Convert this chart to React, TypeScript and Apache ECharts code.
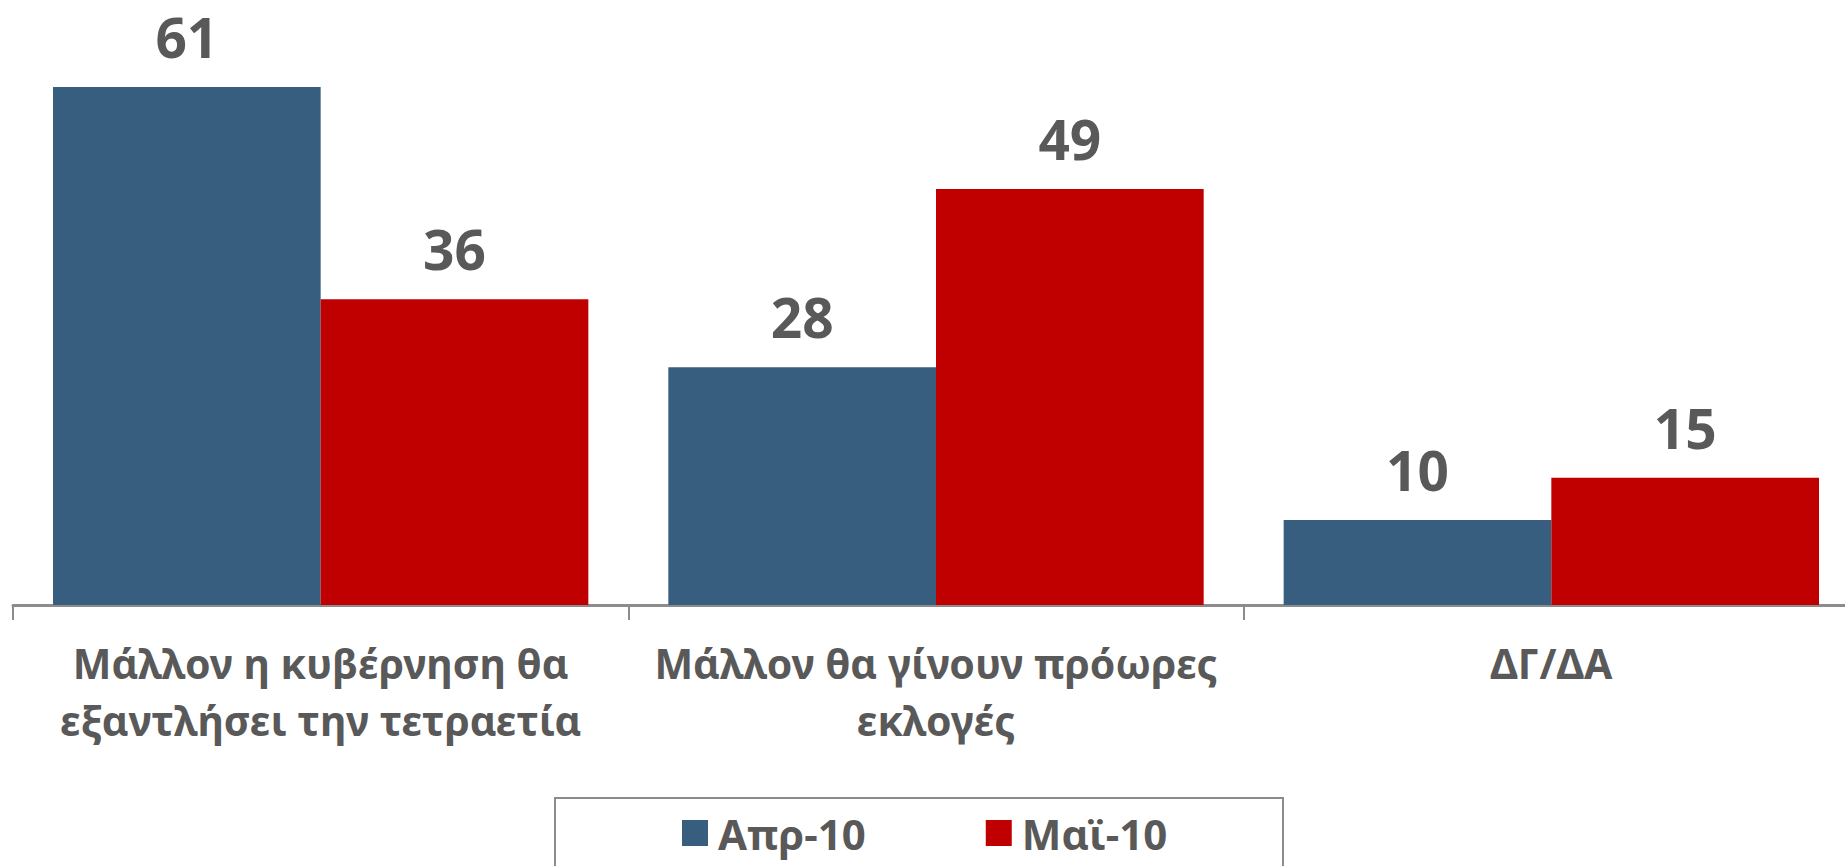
import React, { useEffect, useRef } from "react";
import * as echarts from "echarts";

const categories = [
  "Μάλλον η κυβέρνηση θα\nεξαντλήσει την τετραετία",
  "Μάλλον θα γίνουν πρόωρες\nεκλογές",
  "ΔΓ/ΔΑ",
];
const seriesNames = ["Απρ-10", "Μαϊ-10"];
const aprValues = [61, 28, 10];
const mayValues = [36, 49, 15];
const colors = ["#375E7F", "#C00000"];

const FONT = "'Noto Sans', 'DejaVu Sans', sans-serif";
const GRAY = "#595959";

export default function App() {
  const ref = useRef<HTMLDivElement>(null);
  useEffect(() => {
    if (!ref.current) return;
    const chart = echarts.init(ref.current, undefined, { renderer: "svg" });
    const label = {
      show: true,
      position: "top",
      distance: 23,
      color: GRAY,
      fontFamily: FONT,
      fontWeight: "bold",
      fontSize: 55,
    };
    chart.setOption({
      animation: false,
      backgroundColor: "#ffffff",
      grid: { left: 13, right: 0, top: 10.6, bottom: 261, containLabel: false },
      legend: {
        left: 682,
        top: 808,
        padding: 0,
        itemGap: 120,
        itemWidth: 26,
        itemHeight: 26,
        icon: "rect",
        data: seriesNames,
        textStyle: {
          color: GRAY,
          fontFamily: FONT,
          fontWeight: "bold",
          fontSize: 42,
          lineHeight: 50,
          padding: [0, 0, 0, 5],
        },
      },
      graphic: [
        {
          type: "rect",
          shape: { x: 555, y: 798, width: 728, height: 120 },
          style: { fill: "none", stroke: "#8c8c8c", lineWidth: 2 },
          silent: true,
        },
      ],
      xAxis: {
        type: "category",
        data: categories,
        axisLine: { show: true, lineStyle: { color: "#8c8c8c", width: 3 } },
        axisTick: { show: true, length: 15, lineStyle: { color: "#8c8c8c", width: 2 } },
        axisLabel: {
          color: GRAY,
          fontFamily: FONT,
          fontWeight: "bold",
          fontSize: 41,
          lineHeight: 57,
          margin: 29,
          interval: 0,
        },
      },
      yAxis: {
        type: "value",
        min: 0,
        max: 70,
        show: false,
        splitLine: { show: false },
      },
      series: [
        {
          name: seriesNames[0],
          type: "bar",
          data: aprValues,
          itemStyle: { color: colors[0] },
          barGap: "0%",
          barCategoryGap: "13%",
          label,
        },
        {
          name: seriesNames[1],
          type: "bar",
          data: mayValues,
          itemStyle: { color: colors[1] },
          barGap: "0%",
          barCategoryGap: "13%",
          label,
        },
      ],
    });
    return () => chart.dispose();
  }, []);
  return (
    <div style={{ position: "absolute", left: 0, top: 0, width: 1845, height: 866, overflow: "hidden" }}>
      <div ref={ref} style={{ width: 1859, height: 866 }} />
    </div>
  );
}
